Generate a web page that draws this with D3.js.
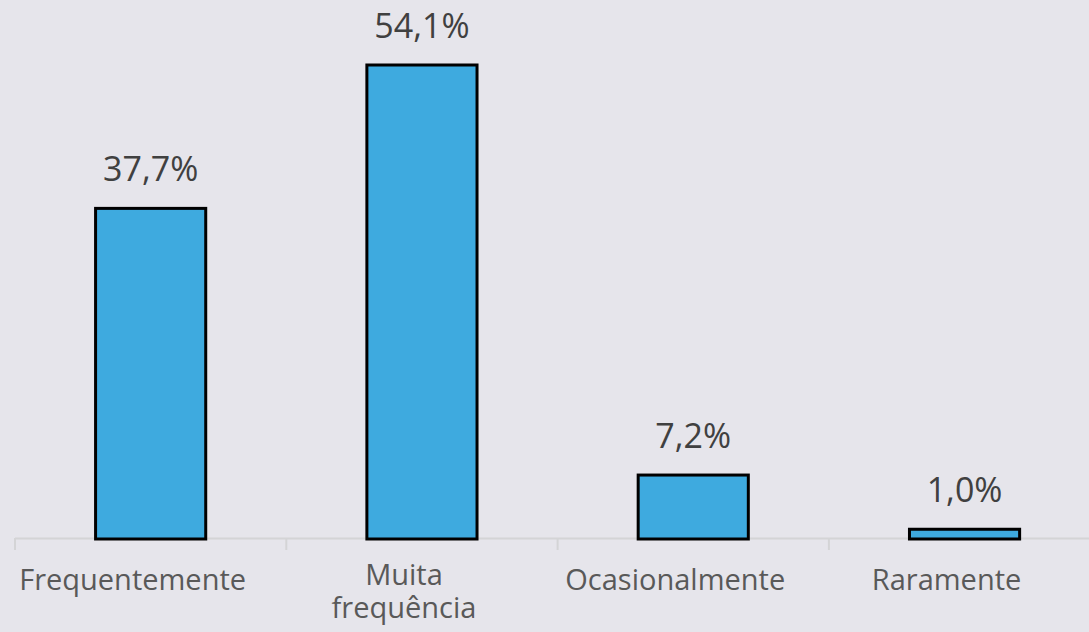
<!DOCTYPE html>
<html><head><meta charset="utf-8">
<script src="https://cdn.jsdelivr.net/npm/d3@7"></script>
<style>
html,body{margin:0;padding:0;background:#e6e5eb;}
svg{display:block;}
text{font-family:"Open Sans","Noto Sans",sans-serif;}
</style></head>
<body><svg id="c" width="1089" height="632"></svg>
<script>
const categories = [["Frequentemente"], ["Muita", "frequência"], ["Ocasionalmente"], ["Raramente"]];
const values = [37.7, 54.1, 7.2, 1.0];
const valueLabels = ["37,7%", "54,1%", "7,2%", "1,0%"];

const W = 1089, H = 632;
const svg = d3.select("#c");
svg.append("rect").attr("width", W).attr("height", H).attr("fill", "#e6e5eb");

const left = 15, base = 538, bandW = 271.3;
const x = d3.scaleBand().domain(d3.range(categories.length)).range([left, left + bandW * 4]).paddingInner(0.594).paddingOuter(0.297);
const y = d3.scaleLinear().domain([0, 54.1]).range([base, 65]);

// axis
svg.append("line").attr("x1", left).attr("x2", W).attr("y1", base + 0.5).attr("y2", base + 0.5)
  .attr("stroke", "#d4d4d6").attr("stroke-width", 2);
for (let i = 0; i <= categories.length; i++) {
  const tx = left + i * bandW;
  svg.append("line").attr("x1", tx).attr("x2", tx).attr("y1", base).attr("y2", base + 12)
    .attr("stroke", "#d4d4d6").attr("stroke-width", 2);
}

svg.selectAll("rect.bar").data(values).enter().append("rect").attr("class", "bar")
  .attr("x", (d, i) => x(i)).attr("width", x.bandwidth())
  .attr("y", d => y(d)).attr("height", d => base - y(d) + 1)
  .attr("fill", "#3eaadf").attr("stroke", "#000").attr("stroke-width", 3);

svg.selectAll("text.val").data(values).enter().append("text").attr("class", "val")
  .attr("x", (d, i) => x(i) + x.bandwidth() / 2).attr("y", d => y(d) - 27)
  .attr("text-anchor", "middle").attr("font-size", 34).attr("fill", "#404040")
  .text((d, i) => valueLabels[i]);

categories.forEach((lines, i) => {
  const cx = x(i) + x.bandwidth() / 2 - 18;
  const t = svg.append("text").attr("text-anchor", "middle").attr("font-size", 29).attr("fill", "#595959");
  const y0 = lines.length > 1 ? 585 : 590;
  lines.forEach((l, j) => t.append("tspan").attr("x", cx).attr("y", y0 + j * 33).text(l));
});
</script></body></html>
